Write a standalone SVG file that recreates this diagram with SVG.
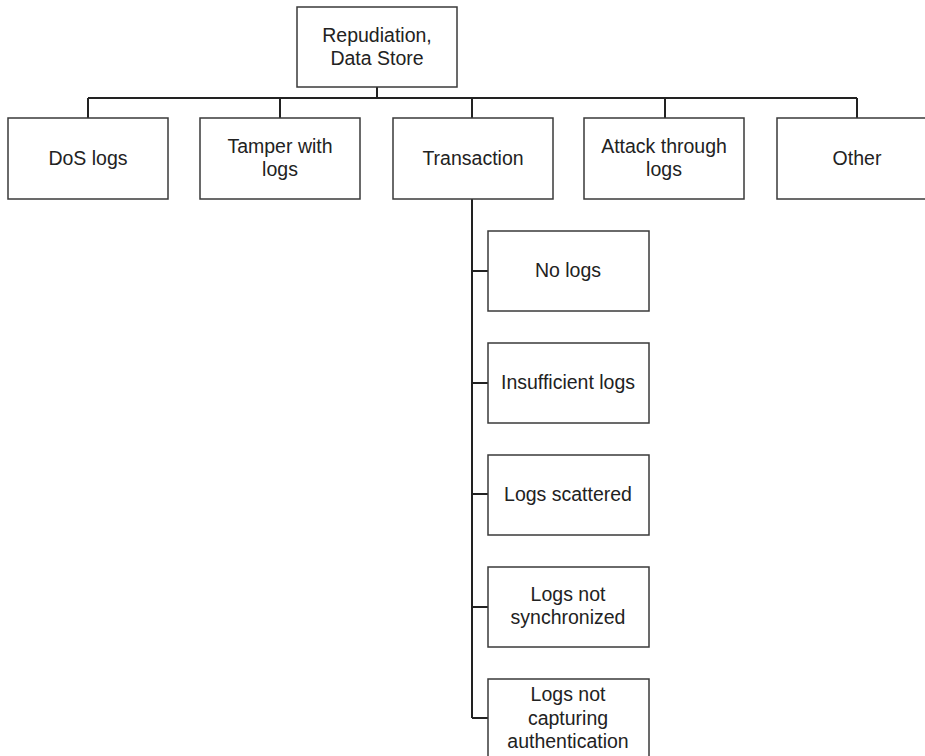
<svg xmlns="http://www.w3.org/2000/svg" width="925" height="756" viewBox="0 0 925 756">
<style>
rect{fill:#fff;stroke:#3a3a3a;stroke-width:1.5}
text{font-family:"Liberation Sans",Arial,sans-serif;font-size:19.5px;fill:#222;text-anchor:middle}
.c{fill:none;stroke:#222;stroke-width:2}
</style>
<rect width="925" height="756" style="fill:#fff;stroke:none"/>
<g id="connectors">
<path class="c" d="M377 87V98M88 98H857M88 98V118M280 98V118M472 98V118M665 98V118M857 98V118"/>
<path class="c" d="M472 199V718M472 271H488M472 383H488M472 494H488M472 607H488M472 718H488"/>
</g>
<g id="root"><rect x="297" y="7" width="160" height="80"/><text x="377" y="42">Repudiation,</text><text x="377" y="65">Data Store</text></g>
<g id="dos"><rect x="8" y="118" width="160" height="81"/><text x="88" y="165">DoS logs</text></g>
<g id="tamper"><rect x="200" y="118" width="160" height="81"/><text x="280" y="153">Tamper with</text><text x="280" y="176">logs</text></g>
<g id="transaction"><rect x="393" y="118" width="160" height="81"/><text x="473" y="165">Transaction</text></g>
<g id="attack"><rect x="584" y="118" width="160" height="81"/><text x="664" y="153">Attack through</text><text x="664" y="176">logs</text></g>
<g id="other"><rect x="777" y="118" width="160" height="81"/><text x="857" y="165">Other</text></g>
<g id="nologs"><rect x="488" y="231" width="161" height="80"/><text x="568" y="277">No logs</text></g>
<g id="insufficient"><rect x="488" y="343" width="161" height="80"/><text x="568" y="389">Insufficient logs</text></g>
<g id="scattered"><rect x="488" y="455" width="161" height="80"/><text x="568" y="501">Logs scattered</text></g>
<g id="notsync"><rect x="488" y="567" width="161" height="80"/><text x="568" y="601">Logs not</text><text x="568" y="624">synchronized</text></g>
<g id="notauth"><rect x="488" y="679" width="161" height="80"/><text x="568" y="701">Logs not</text><text x="568" y="725">capturing</text><text x="568" y="748">authentication</text></g>
</svg>
